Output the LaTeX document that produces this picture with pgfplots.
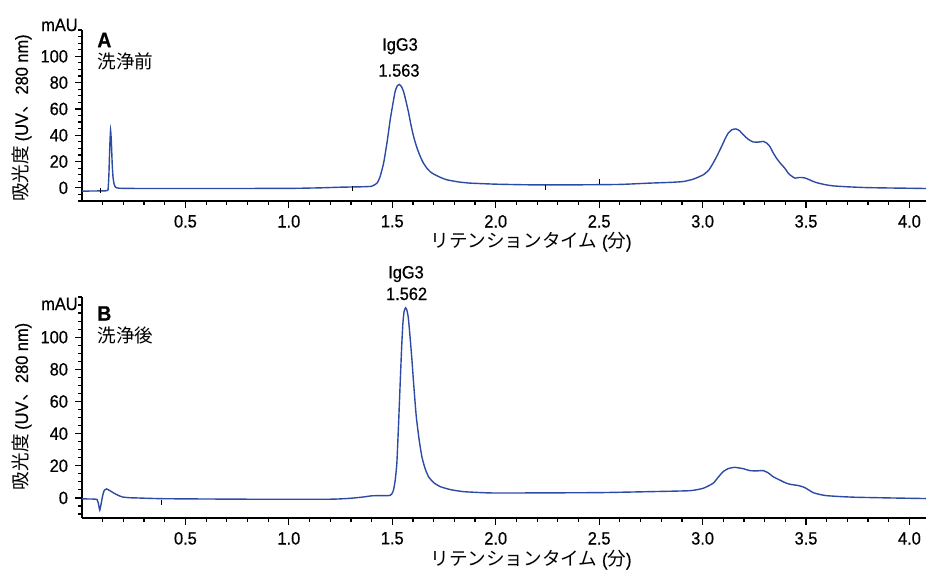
\documentclass[border=0pt]{standalone}
\usepackage{fontspec}
\setmainfont[FakeStretch=0.92, FakeBold=0.6]{Liberation Sans}
\newfontfamily\cjk{Noto Sans CJK JP}
\usepackage{pgfplots}
\pgfplotsset{compat=1.18}
\definecolor{trace}{RGB}{45,75,165}
\newcommand{\tf}{\fontsize{8.9}{10}\selectfont}
\newcommand{\cf}{\fontsize{9.3}{10}\selectfont\cjk}
\pgfplotsset{chrom/.style={
  scale only axis, width=422pt,
  xmin=0, xmax=4.08,
  axis lines=left, axis line style={-, black, line width=0.6pt},
  tick style={black, line width=0.6pt},
  tick align=outside,
  major tick length=3.5pt, minor tick length=2pt,
  xtick={0.5,1.0,1.5,2.0,2.5,3.0,3.5,4.0},
  minor xtick={0.1,0.2,0.3,0.4,0.6,0.7,0.8,0.9,1.1,1.2,1.3,1.4,1.6,1.7,1.8,1.9,2.1,2.2,2.3,2.4,2.6,2.7,2.8,2.9,3.1,3.2,3.3,3.4,3.6,3.7,3.8,3.9,4.0},
  ytick={0,20,40,60,80,100},
  /pgf/number format/assume math mode=true,
  xticklabel style={font=\tf, /pgf/number format/.cd, fixed, fixed zerofill, precision=1},
  yticklabel style={font=\tf},
  every axis plot/.append style={trace, line width=0.7pt},
}}
\begin{document}
\begin{tikzpicture}
\path[use as bounding box] (0,0) rectangle (463pt,285pt);
% ---------- Panel A ----------
\begin{axis}[chrom, at={(41pt,184.5pt)}, anchor=south west, height=85.5pt,
  ymin=-10, ymax=120,
  minor ytick={-10,-5,5,10,15,25,30,35,45,50,55,65,70,75,85,90,95,105,110,115,120}]
\addplot[smooth, tension=0.3] coordinates {
(0,-2.5) (0.05,-2.4) (0.10,-2.3) (0.12,-2.2) (0.126,-1.5) (0.130,10) (0.134,30) (0.138,44) (0.142,35) (0.146,18) (0.150,8) (0.155,3) (0.162,0.5) (0.18,-0.3) (0.3,-0.5) (0.6,-0.5) (1.0,-0.4) (1.15,0) (1.25,0.5) (1.35,0.8) (1.40,1.2) (1.426,3.6) (1.44,8) (1.458,18.8) (1.475,35) (1.490,51.9) (1.503,64) (1.514,73.5) (1.524,77.5) (1.534,78.6) (1.544,77) (1.554,73.5) (1.566,66) (1.579,57) (1.590,48) (1.603,39) (1.618,31) (1.635,23.9) (1.650,19) (1.667,15) (1.685,12) (1.707,9.9) (1.735,7.8) (1.764,6.1) (1.82,4.5) (1.876,3.6) (2.0,2.8) (2.166,2.3) (2.4,2.3) (2.6,2.6) (2.745,3.6) (2.85,4.2) (2.906,4.8) (2.955,6.6) (3.003,9.9) (3.03,13.5) (3.051,18.8) (3.072,25) (3.092,31.5) (3.108,37) (3.124,41.7) (3.142,44.2) (3.161,44.8) (3.178,43.5) (3.196,40.5) (3.22,37) (3.244,34.9) (3.27,34.8) (3.293,35.3) (3.31,34) (3.325,31.5) (3.34,27) (3.357,22.6) (3.377,18.5) (3.397,15) (3.41,12) (3.422,9.9) (3.446,7.4) (3.462,7.8) (3.478,7.9) (3.495,7.5) (3.510,6.6) (3.530,5.2) (3.550,4.0) (3.59,2.5) (3.631,1.5) (3.70,0.8) (3.792,0.2) (3.9,-0.1) (4.0,-0.3) (4.08,-0.5)};
\addplot[only marks, mark=|, mark size=1.25pt, black, line width=0.5pt] coordinates {(0.09,-2.3) (1.31,-0.5) (2.24,0.5) (2.50,4.5)};
\end{axis}
% ---------- Panel B ----------
\begin{axis}[chrom, at={(41pt,26pt)}, anchor=south west, height=110.5pt,
  ymin=-12.5, ymax=125,
  minor ytick={-10,-5,5,10,15,25,30,35,45,50,55,65,70,75,85,90,95,105,110,115,120,125}]
\addplot[smooth, tension=0.3] coordinates {
(0,-0.6) (0.05,-0.7) (0.073,-1) (0.08,-4) (0.086,-7.6) (0.092,-4) (0.100,1.5) (0.108,4.8) (0.119,5.6) (0.135,4.5) (0.154,3) (0.175,1.6) (0.195,0.6) (0.23,0.1) (0.26,0) (0.4,-0.5) (0.8,-0.8) (1.2,-0.8) (1.3,-0.2) (1.361,0.6) (1.40,1.3) (1.426,1.4) (1.47,1.4) (1.490,1.6) (1.500,3) (1.506,5) (1.514,11) (1.522,21.5) (1.530,45) (1.538,71) (1.545,93) (1.551,108.3) (1.557,116) (1.564,118.3) (1.570,117) (1.577,112.6) (1.586,100) (1.595,85.7) (1.605,68) (1.616,50.5) (1.630,36) (1.643,25.6) (1.658,18.5) (1.675,13.2) (1.700,9.5) (1.732,7) (1.78,5.2) (1.844,3.9) (1.973,3.1) (2.166,3.1) (2.5,3.3) (2.745,3.9) (2.939,4.5) (3.003,6) (3.051,9.1) (3.075,12.8) (3.099,16.3) (3.125,18.3) (3.156,19) (3.196,18.2) (3.228,17) (3.26,16.8) (3.293,17) (3.318,15.5) (3.341,13.2) (3.375,11) (3.406,9.1) (3.43,8.3) (3.454,7.9) (3.475,7.3) (3.494,6.4) (3.515,4.8) (3.534,3.3) (3.565,2.2) (3.599,1.4) (3.67,0.8) (3.744,0.4) (3.9,0) (4.08,-0.4)};
\addplot[only marks, mark=|, mark size=1.25pt, black, line width=0.5pt] coordinates {(0.385,-2.6)};
\end{axis}
% ---------- Text ----------
\node[rotate=90, font=\tf] at (11pt,226pt) {{\cf 吸光度}\ (UV{\cf 、}280 nm)};
\node[rotate=90, font=\tf] at (11pt,81.75pt) {{\cf 吸光度}\ (UV{\cf 、}280 nm)};
\node[anchor=east, font=\tf, inner sep=0pt] at (39pt,272.5pt) {mAU};
\node[anchor=east, font=\tf, inner sep=0pt] at (39pt,133pt) {mAU};
\node[anchor=west, font=\fontsize{10.5}{12}\selectfont\bfseries, inner sep=0pt] at (48.5pt,265pt) {A};
\node[anchor=west, font=\cf, inner sep=0pt] at (48.5pt,254.25pt) {洗浄前};
\node[anchor=west, font=\fontsize{10.5}{12}\selectfont\bfseries, inner sep=0pt] at (48.5pt,128.25pt) {B};
\node[anchor=west, font=\cf, inner sep=0pt] at (48.5pt,117.25pt) {洗浄後};
\node[anchor=base, font=\tf, inner sep=0pt] at (200pt,259.7pt) {IgG3};
\node[anchor=base, font=\tf, inner sep=0pt] at (199.5pt,246.7pt) {1.563};
\node[anchor=base, font=\tf, inner sep=0pt] at (203pt,145.8pt) {IgG3};
\node[anchor=base, font=\tf, inner sep=0pt] at (203.3pt,135pt) {1.562};
\node[font=\tf] at (265.5pt,164pt) {{\cf リテンションタイム}\ ({\cf 分})};
\node[font=\tf] at (265.5pt,5pt) {{\cf リテンションタイム}\ ({\cf 分})};
\end{tikzpicture}
\end{document}
